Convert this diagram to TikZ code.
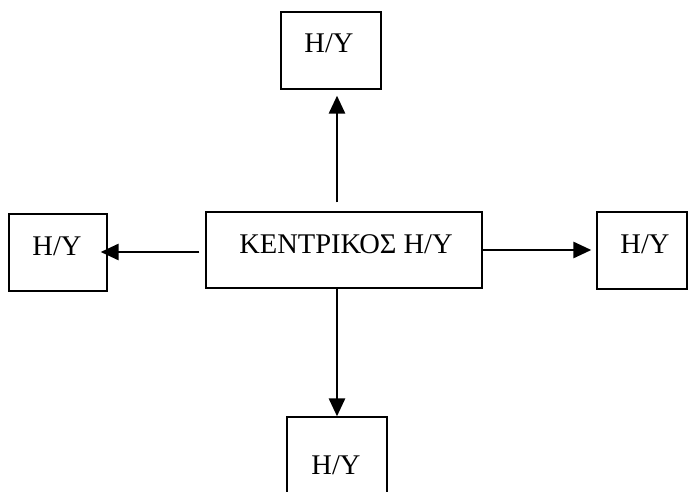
\documentclass[tikz,border=0pt]{standalone}
\usepackage{fontspec}
\setmainfont{Liberation Serif}
\usetikzlibrary{arrows.meta}
\begin{document}
\begin{tikzpicture}[x=1pt,y=-1pt,
  box/.style={draw=black, line width=1.3pt, rectangle, inner sep=0pt},
  lbl/.style={anchor=base, inner sep=0pt, font=\fontsize{28.5}{33}\selectfont},
  conn/.style={line width=2.8pt, -{Triangle[length=18pt,width=16pt]}}]
\path[use as bounding box] (0,0) rectangle (688,492);
\clip (0,0) rectangle (688,492);
% boxes
\node[box, minimum width=100pt, minimum height=77pt] (top) at (331,50.5) {};
\node[box, minimum width=98pt, minimum height=77pt] (left) at (58,252.5) {};
\node[box, minimum width=276pt, minimum height=76pt] (center) at (344,250) {};
\node[box, minimum width=90pt, minimum height=77pt] (right) at (642,250.5) {};
\node[box, minimum width=100pt, minimum height=98pt] (bottom) at (337,466) {};
% labels
\node[lbl] (ltop) at (329,53) {Η/Υ};
\node[lbl] (lleft) at (57,255) {Η/Υ};
\node[lbl] (lcenter) at (346,253) {ΚΕΝΤΡΙΚΟΣ Η/Υ};
\node[lbl] (lright) at (645,253) {Η/Υ};
\node[lbl] (lbottom) at (336,474) {Η/Υ};
% connectors
\draw[conn, shorten <=9pt, shorten >=6pt] ([xshift=-7pt]center.north) -- ([xshift=-7pt]center.north |- top.south);
\draw[conn] ([xshift=-7pt]center.south) -- (bottom.north);
\draw[conn, shorten <=6pt, shorten >=-7pt] ([yshift=-2pt]center.west) -- ([yshift=-2pt]center.west -| left.east);
\draw[conn, shorten >=5pt] (center.east) -- (center.east -| right.west);
\end{tikzpicture}
\end{document}
